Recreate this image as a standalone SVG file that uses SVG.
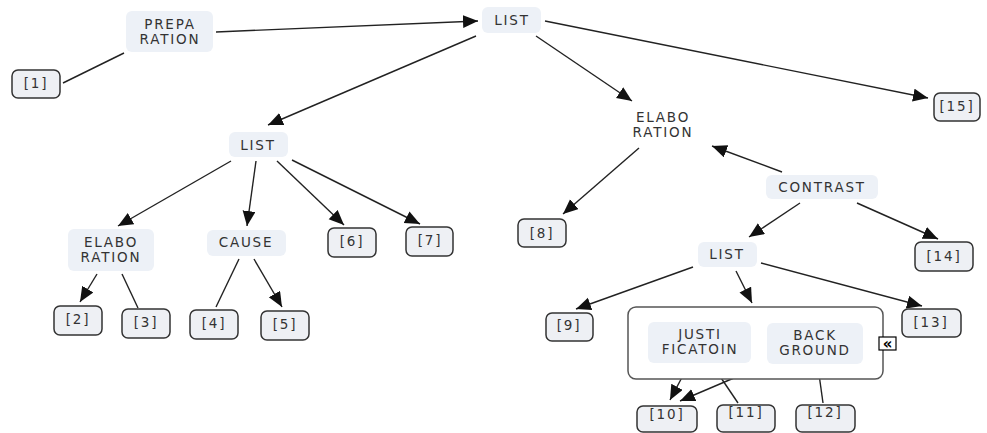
<svg xmlns="http://www.w3.org/2000/svg" width="987" height="433" viewBox="0 0 987 433">
<style>
.c{fill:#edf1f7;stroke:none}
.l{fill:#eef0f4;stroke:#333;stroke-width:1.5}
text{font-family:"DejaVu Sans",Verdana,sans-serif;font-size:13.5px;fill:#333;text-anchor:middle;letter-spacing:1.8px}
.e{stroke:#222;stroke-width:1.4;fill:none}
.a{marker-end:url(#ah)}
</style>
<defs>
<marker id="ah" markerUnits="userSpaceOnUse" markerWidth="16" markerHeight="14" refX="15" refY="6.5" orient="auto">
<path d="M0,0 L15,6.5 L0,13 z" fill="#111"/>
</marker>
</defs>
<rect x="0" y="0" width="987" height="433" fill="#fff"/>
<g id="connectors">
<line class="e" x1="63" y1="83" x2="124" y2="53"/>
<line class="e a" x1="216" y1="32" x2="478" y2="21"/>
<line class="e a" x1="545" y1="21" x2="928" y2="98"/>
<line class="e a" x1="536" y1="36" x2="632" y2="101"/>
<line class="e a" x1="476" y1="36" x2="268" y2="125"/>
<line class="e a" x1="231" y1="161" x2="118" y2="226"/>
<line class="e a" x1="256" y1="161" x2="247" y2="226"/>
<line class="e a" x1="277" y1="161" x2="344" y2="225"/>
<line class="e a" x1="292" y1="160" x2="420" y2="224"/>
<line class="e a" x1="97" y1="274" x2="80" y2="302"/>
<line class="e" x1="122" y1="274" x2="138" y2="308"/>
<line class="e" x1="239" y1="259" x2="216" y2="307"/>
<line class="e a" x1="254" y1="259" x2="282" y2="307"/>
<line class="e a" x1="639" y1="148" x2="563" y2="214"/>
<line class="e a" x1="782" y1="172" x2="712" y2="146"/>
<line class="e a" x1="800" y1="203" x2="749" y2="237"/>
<line class="e a" x1="857" y1="203" x2="938" y2="239"/>
<line class="e a" x1="693" y1="267" x2="576" y2="309"/>
<line class="e a" x1="736" y1="271" x2="752" y2="303"/>
<line class="e a" x1="761" y1="263" x2="922" y2="306"/>
<line class="e a" x1="688" y1="366" x2="670" y2="400"/>
<line class="e a" x1="762" y1="366" x2="680" y2="401"/>
<line class="e" x1="713" y1="366" x2="738" y2="403"/>
<line class="e" x1="818" y1="367" x2="823" y2="403"/>
</g>
<g id="n-prep"><rect class="c" x="126" y="11" width="87" height="41" rx="6"/><text x="170" y="28.5">PREPA</text><text x="170" y="43.5">RATION</text></g>
<g id="n-1"><rect class="l" x="12" y="70" width="48" height="28" rx="6"/><text x="36" y="88">[1]</text></g>
<g id="n-list0"><rect class="c" x="482" y="7" width="59" height="26" rx="6"/><text x="512" y="25">LIST</text></g>
<g id="n-15"><rect class="l" x="934" y="93" width="46" height="28" rx="6"/><text x="957" y="111">[15]</text></g>
<g id="n-elab-r"><text x="663" y="121.5">ELABO</text><text x="663" y="136.5">RATION</text></g>
<g id="n-list1"><rect class="c" x="229" y="132" width="59" height="25" rx="6"/><text x="258" y="150">LIST</text></g>
<g id="n-elab-l"><rect class="c" x="68" y="229" width="86" height="42" rx="6"/><text x="111" y="246.5">ELABO</text><text x="111" y="261.5">RATION</text></g>
<g id="n-cause"><rect class="c" x="207" y="230" width="79" height="26" rx="6"/><text x="246" y="247">CAUSE</text></g>
<g id="n-6"><rect class="l" x="328" y="228" width="48" height="29" rx="6"/><text x="352" y="246">[6]</text></g>
<g id="n-7"><rect class="l" x="406" y="227" width="47" height="29" rx="6"/><text x="430" y="245">[7]</text></g>
<g id="n-2"><rect class="l" x="54" y="306" width="48" height="29" rx="6"/><text x="78" y="324">[2]</text></g>
<g id="n-3"><rect class="l" x="122" y="309" width="48" height="29" rx="6"/><text x="146" y="327">[3]</text></g>
<g id="n-4"><rect class="l" x="190" y="310" width="48" height="29" rx="6"/><text x="214" y="328">[4]</text></g>
<g id="n-5"><rect class="l" x="261" y="311" width="48" height="29" rx="6"/><text x="285" y="329">[5]</text></g>
<g id="n-8"><rect class="l" x="518" y="219" width="48" height="28" rx="6"/><text x="542" y="238">[8]</text></g>
<g id="n-contrast"><rect class="c" x="766" y="175" width="112" height="24" rx="6"/><text x="822" y="192">CONTRAST</text></g>
<g id="n-14"><rect class="l" x="915" y="242" width="58" height="29" rx="6"/><text x="944" y="261">[14]</text></g>
<g id="n-list3"><rect class="c" x="698" y="242" width="59" height="25" rx="6"/><text x="727" y="259">LIST</text></g>
<g id="n-9"><rect class="l" x="546" y="313" width="47" height="28" rx="6"/><text x="569" y="330">[9]</text></g>
<g id="n-13"><rect class="l" x="902" y="309" width="59" height="28" rx="6"/><text x="931" y="327">[13]</text></g>
<g id="n-group">
<rect x="628" y="307" width="255" height="72" rx="8" fill="#fff" stroke="#555" stroke-width="1.5"/>
<rect x="879" y="337" width="17" height="13" fill="#fff" stroke="#000" stroke-width="1.2"/>
<text x="887.5" y="348.5" style="font-size:15px;font-weight:bold;letter-spacing:0;fill:#000">«</text>
</g>
<g id="n-justi"><rect class="c" x="648" y="322" width="103" height="41" rx="6"/><text x="700" y="338.5">JUSTI</text><text x="700" y="353.5">FICATOIN</text></g>
<g id="n-back"><rect class="c" x="767" y="323" width="96" height="41" rx="6"/><text x="815" y="339.5">BACK</text><text x="815" y="354.5">GROUND</text></g>
<g id="n-10"><rect class="l" x="637" y="406" width="60" height="26" rx="6"/><text x="667" y="419">[10]</text></g>
<g id="n-11"><rect class="l" x="717" y="405" width="58" height="27" rx="6"/><text x="746" y="417">[11]</text></g>
<g id="n-12"><rect class="l" x="796" y="405" width="59" height="27" rx="6"/><text x="825" y="417">[12]</text></g>
</svg>
